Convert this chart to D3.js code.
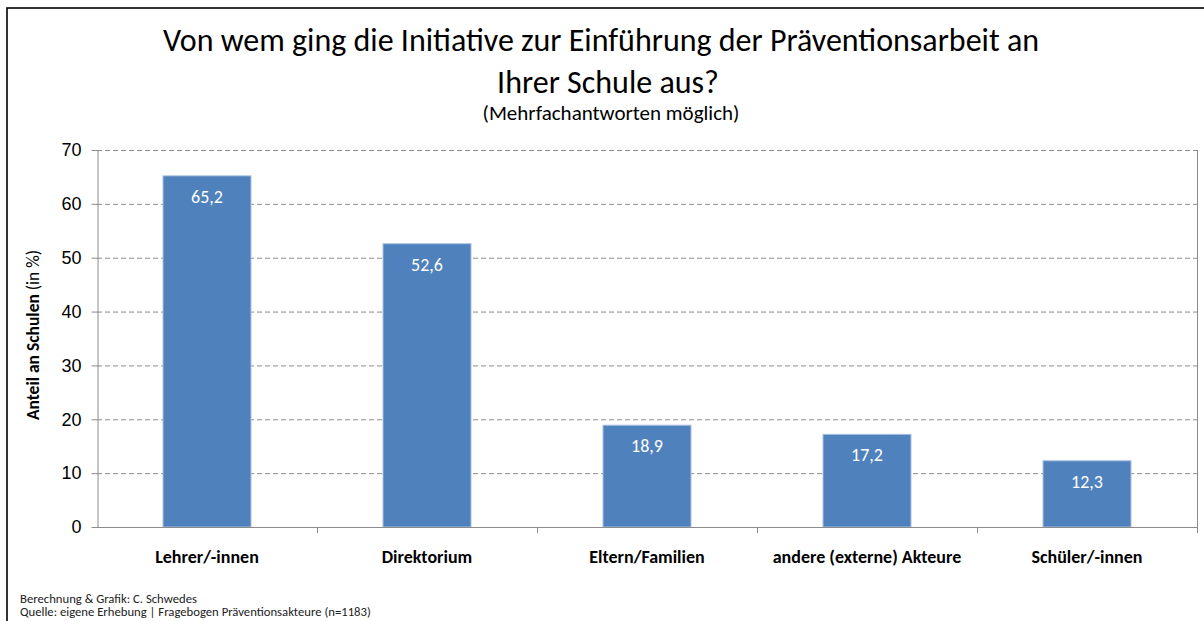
<!DOCTYPE html>
<html>
<head>
<meta charset="utf-8">
<script src="https://cdn.jsdelivr.net/npm/d3@7"></script>
<style>
  body { margin: 0; background: #fff; }
  svg { display: block; font-family: Carlito, Calibri, Lato, sans-serif; }
  .grid line { stroke: #8c8c8c; stroke-dasharray: 5 3; }
  .axis path, .axis line { stroke: #8c8c8c; }
</style>
</head>
<body>
<svg id="chart" width="1204" height="621"></svg>
<script>
// chart data
const categories = ["Lehrer/-innen", "Direktorium", "Eltern/Familien", "andere (externe) Akteure", "Schüler/-innen"];
const values = [65.2, 52.6, 18.9, 17.2, 12.3];
const yTicks = [0, 10, 20, 30, 40, 50, 60, 70];

const titleLines = ["Von wem ging die Initiative zur Einführung der Präventionsarbeit an", "Ihrer Schule aus?"];
const subtitle = "(Mehrfachantworten möglich)";
const footer = ["Berechnung & Grafik: C. Schwedes", "Quelle: eigene Erhebung | Fragebogen Präventionsakteure (n=1183)"];

const svg = d3.select('#chart');
const m = {left: 97, right: 1197, top: 150, bottom: 527};

// outer frame
svg.append('rect')
    .attr('x', 7).attr('y', 8)
    .attr('width', 1210).attr('height', 630)
    .attr('fill', 'none')
    .attr('stroke', '#000')
    .attr('stroke-width', 1.6);

const x = d3.scaleBand().domain(categories).range([m.left, m.right]).paddingInner(0.6).paddingOuter(0.3);
const xb = d3.scaleBand().domain(categories).range([m.left, m.right]);
const y = d3.scaleLinear().domain([0, 70]).range([m.bottom, m.top]);

// dashed gridlines
svg.append('g')
    .attr('class', 'grid')
    .selectAll('line')
    .data(yTicks.slice(1))
    .enter()
    .append('line')
    .attr('x1', m.left).attr('x2', m.right)
    .attr('y1', d => y(d) + 0.5).attr('y2', d => y(d) + 0.5);

// bars
svg.append('g')
    .selectAll('rect')
    .data(values)
    .enter()
    .append('rect')
    .attr('x', (d, i) => x(categories[i]))
    .attr('y', d => y(d))
    .attr('width', x.bandwidth())
    .attr('height', d => y(0) - y(d))
    .attr('fill', '#4f81bd')
    .attr('stroke', '#a9c1e0')
    .attr('stroke-width', 1);

// value labels
svg.append('g')
    .selectAll('text')
    .data(values)
    .enter()
    .append('text')
    .attr('x', (d, i) => x(categories[i]) + x.bandwidth() / 2)
    .attr('y', d => y(d) + 27)
    .attr('text-anchor', 'middle')
    .attr('fill', '#fff')
    .style('font-size', '18px')
    .text(d => d3.format('.1f')(d).replace('.', ','));

// y axis
svg.append('g')
    .attr('class', 'axis')
    .attr('transform', `translate(${m.left + 0.5},0)`)
    .call(d3.axisLeft(y).tickValues(yTicks).tickSize(6).tickSizeOuter(0).tickPadding(10))
    .call(g => g.selectAll('text').style('font-size', '18px').attr('fill', '#000').style('font-family', 'inherit'));

// x axis line and category separators
const sep = categories.map(c => xb(c)).concat([m.right]).slice(1);
svg.append('g')
    .attr('class', 'axis')
    .call(g => {
        g.append('line')
            .attr('x1', m.left).attr('x2', m.right)
            .attr('y1', m.bottom + 0.5).attr('y2', m.bottom + 0.5);
        g.selectAll('line.sep')
            .data(sep)
            .enter()
            .append('line')
            .attr('class', 'sep')
            .attr('x1', d => d + 0.5).attr('x2', d => d + 0.5)
            .attr('y1', m.bottom).attr('y2', m.bottom + 6);
        g.append('line')
            .attr('x1', m.right + 0.5).attr('x2', m.right + 0.5)
            .attr('y1', m.top).attr('y2', m.bottom);
    });

svg.append('g')
    .selectAll('text')
    .data(categories)
    .enter()
    .append('text')
    .attr('x', d => xb(d) + xb.bandwidth() / 2)
    .attr('y', 563)
    .attr('text-anchor', 'middle')
    .style('font-size', '18px')
    .style('font-weight', 'bold')
    .text(d => d);

// y axis title
const yt = svg.append('text')
    .attr('transform', 'translate(39,335) rotate(-90)')
    .attr('text-anchor', 'middle')
    .style('font-size', '17.5px');
yt.append('tspan').style('font-weight', 'bold').text('Anteil an Schulen');
yt.append('tspan').text(' (in %)');

// title (second line sits slightly right of centre in the original)
svg.append('g')
    .selectAll('text')
    .data(titleLines)
    .enter()
    .append('text')
    .attr('x', (d, i) => 601 + i * 7)
    .attr('y', (d, i) => 51 + i * 42)
    .attr('text-anchor', 'middle')
    .style('font-size', '32px')
    .text(d => d);

svg.append('text')
    .attr('x', 611)
    .attr('y', 120)
    .attr('text-anchor', 'middle')
    .style('font-size', '21px')
    .text(subtitle);

// footer
svg.append('g')
    .selectAll('text')
    .data(footer)
    .enter()
    .append('text')
    .attr('x', 20)
    .attr('y', (d, i) => 603 + i * 13)
    .style('font-size', '12.7px')
    .attr('fill', '#222')
    .text(d => d);
</script>
</body>
</html>
